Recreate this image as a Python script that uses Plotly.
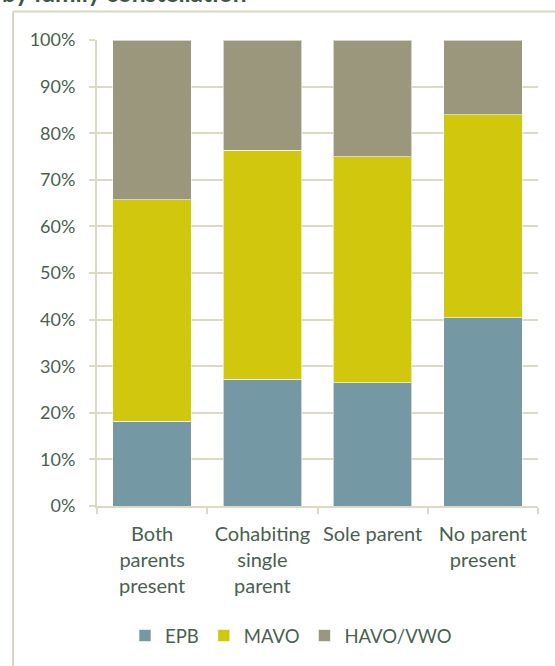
import plotly.graph_objects as go

# Share of pupils per school track, by family constellation
categories = ["Both<br>parents<br>present", "Cohabiting<br>single<br>parent",
              "Sole parent", "No parent<br>present"]
epb = [18.2, 27.2, 26.4, 40.4]
mavo = [47.5, 49.1, 48.5, 43.6]
havo_vwo = [34.3, 23.7, 25.1, 16.0]

series = [("EPB", epb, "#7598a5"),
          ("MAVO", mavo, "#d1c70d"),
          ("HAVO/VWO", havo_vwo, "#9a977d")]

text_col = "#4a5f50"
grid_col = "#dcdac4"
font_family = "Lato, 'Open Sans', sans-serif"

fig = go.Figure()
for name, vals, col in series:
    fig.add_trace(go.Bar(
        x=categories, y=vals, name=name,
        marker=dict(color=col, line=dict(color="rgba(255,255,255,0.6)", width=1)),
    ))

W, H = 555, 666
L, R, T, B = 97, 17, 40, 159
pw, ph = W - L - R, H - T - B

def px_x(p):
    return (p - L) / pw

def px_y(p):
    return (H - B - p) / ph

fig.update_layout(
    width=W, height=H,
    margin=dict(l=L, r=R, t=T, b=B),
    barmode="stack", bargap=0.29,
    plot_bgcolor="white", paper_bgcolor="white",
    font=dict(family=font_family, color=text_col),
    showlegend=True,
    legend=dict(orientation="h", x=px_x(291), xanchor="center",
                y=px_y(636), yanchor="middle",
                font=dict(size=18.5, color=text_col),
                itemwidth=30, traceorder="normal"),
    xaxis=dict(
        showline=True, linecolor=grid_col, linewidth=2,
        ticks="outside", tickson="boundaries", ticklen=6, tickcolor=grid_col,
        tickwidth=2, tickfont=dict(size=20, color=text_col),
        ticklabelstandoff=9, showgrid=False,
    ),
    yaxis=dict(
        range=[0, 100], tickvals=list(range(0, 101, 10)),
        ticktext=[f"{v}%" for v in range(0, 101, 10)],
        showgrid=True, gridcolor=grid_col, gridwidth=2,
        showline=True, linecolor=grid_col, linewidth=2,
        ticks="outside", ticklen=6, tickcolor=grid_col, tickwidth=2,
        tickfont=dict(size=18, color=text_col), ticklabelstandoff=10,
        zeroline=False,
    ),
)

# Outer frame of the chart area
frame_col = "#d9d7c1"
fig.add_shape(type="line", xref="paper", yref="paper",
              x0=px_x(13), x1=px_x(W + 10), y0=px_y(11.5), y1=px_y(11.5),
              line=dict(color=frame_col, width=2))
fig.add_shape(type="line", xref="paper", yref="paper",
              x0=px_x(13), x1=px_x(13), y0=px_y(11.5), y1=px_y(H + 10),
              line=dict(color=frame_col, width=2))

# Chart title
fig.add_annotation(text="<b>by family constellation</b>", xref="paper", yref="paper",
                   x=px_x(0), xanchor="left", y=px_y(9), yanchor="bottom",
                   showarrow=False, font=dict(size=24.5, color="#3e5646", family=font_family))

fig.write_html("out.html")
